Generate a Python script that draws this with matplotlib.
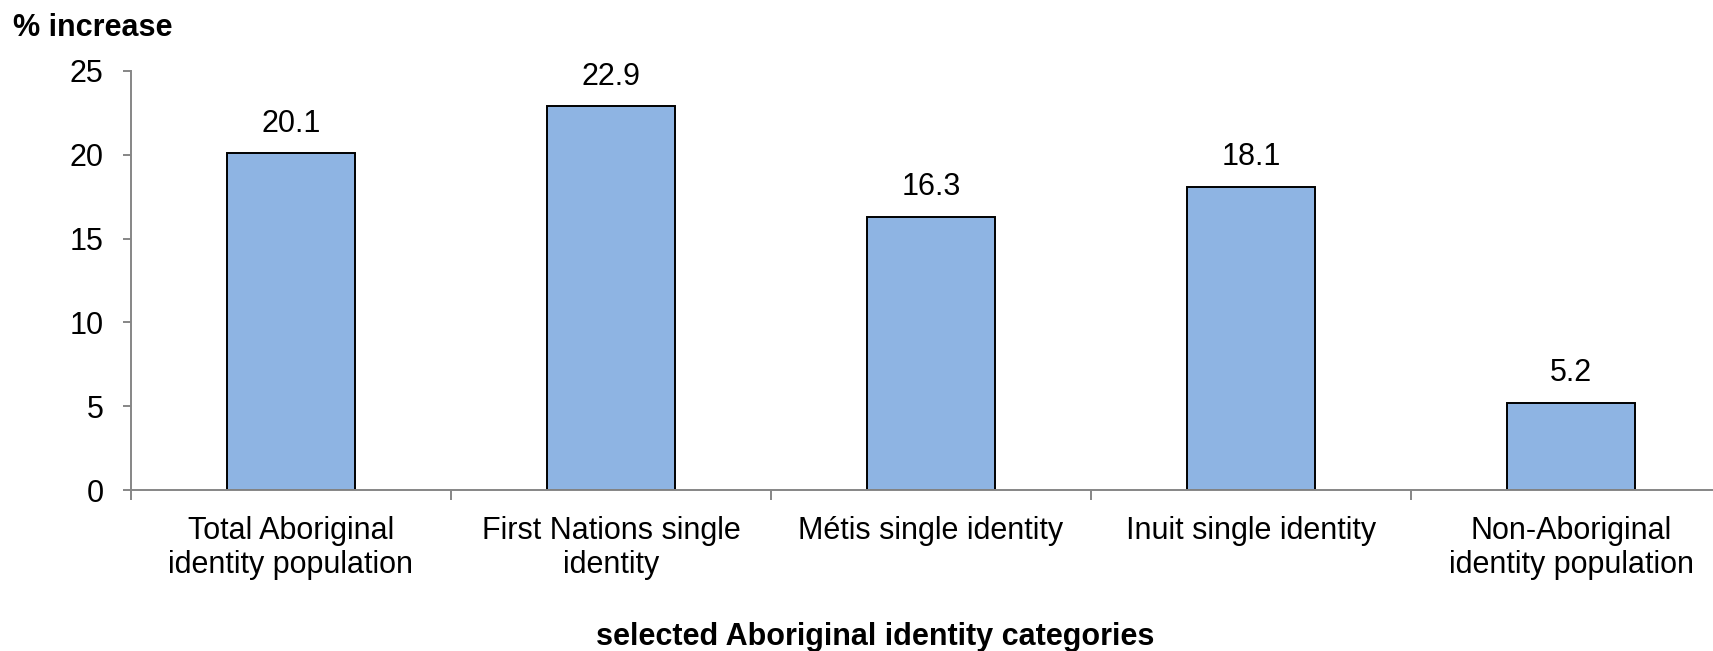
import matplotlib
matplotlib.use("Agg")
import matplotlib.pyplot as plt
import numpy as np

categories = ["Total Aboriginal\nidentity population",
              "First Nations single\nidentity",
              "Métis single identity",
              "Inuit single identity",
              "Non-Aboriginal\nidentity population"]
values = [20.1, 22.9, 16.3, 18.1, 5.2]
yticks = [0, 5, 10, 15, 20, 25]
y_label = "% increase"
x_label = "selected Aboriginal identity categories"

plt.rcParams['font.family'] = ['Liberation Sans', 'DejaVu Sans']

W, H = 1713, 651
fig = plt.figure(figsize=(W / 100, H / 100), dpi=100)
ax = fig.add_axes([131 / W, 161 / H, 1600 / W, 419 / H])

x = np.arange(len(categories))
bars = ax.bar(x, values, width=0.4, color="#8EB4E3", edgecolor="black",
              linewidth=1.4, zorder=2)

for xi, v in zip(x, values):
    ax.annotate(f"{v:.1f}", (xi, v), xytext=(0, 15.5), textcoords="offset points",
                ha="center", va="baseline", fontsize=22, color="black")

ax.set_xlim(-0.5, len(categories) - 0.5)
ax.set_ylim(0, 25)
ax.set_yticks(yticks)
ax.set_yticklabels([str(t) for t in yticks], fontsize=22)
ax.set_xticks(x)
ax.set_xticklabels(categories, fontsize=22, linespacing=1.15)
ax.set_xticks(np.arange(len(categories) + 1) - 0.5, minor=True)

ax.tick_params(axis="x", which="major", length=0, pad=19)
ax.tick_params(axis="x", which="minor", length=7, width=1.4, color="#868686",
               direction="out")
ax.tick_params(axis="y", length=5.8, width=1.4, color="#868686", pad=14,
               direction="out")

for s in ["top", "right"]:
    ax.spines[s].set_visible(False)
for s in ["left", "bottom"]:
    ax.spines[s].set_color("#868686")
    ax.spines[s].set_linewidth(1.4)
ax.spines["bottom"].set_zorder(3)

fig.text(13 / W, 1 - 36 / H, y_label, fontsize=22, fontweight="bold",
         ha="left", va="baseline")
fig.text(875 / W, 1 - 645 / H, x_label, fontsize=22, fontweight="bold",
         ha="center", va="baseline")

fig.savefig("out.png", dpi=100)
